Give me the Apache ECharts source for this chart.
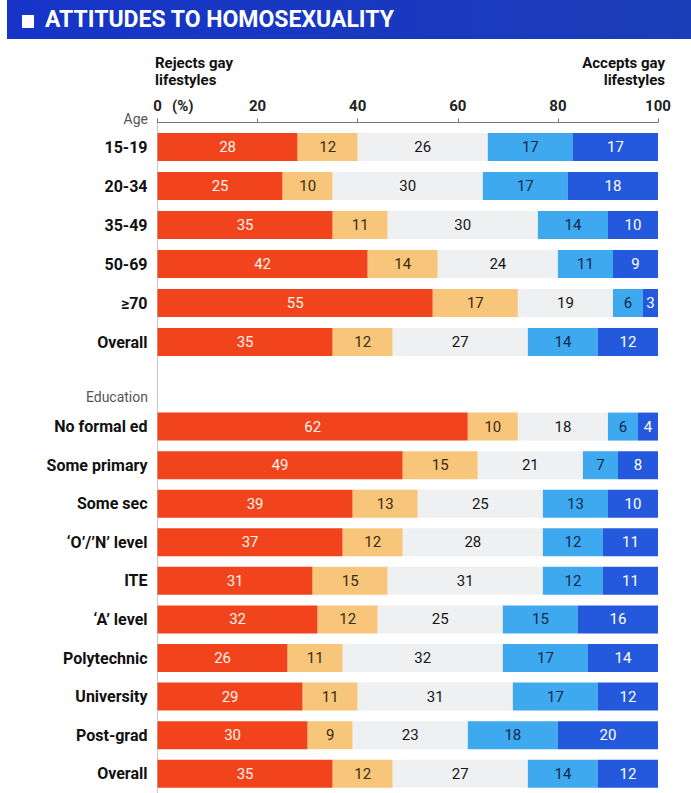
<!DOCTYPE html>
<html>
<head>
<meta charset="utf-8">
<style>
  html, body { margin: 0; padding: 0; background: #fff; }
  #chart { width: 691px; height: 793px; }
</style>
<script src="https://cdn.jsdelivr.net/npm/echarts@6/dist/echarts.min.js"></script>
</head>
<body>
<div id="chart"></div>
<script>
// --- data ---
var ageGroups = ['15-19', '20-34', '35-49', '50-69', '≥70', 'Overall'];
var ageReject = [28, 25, 35, 42, 55, 35];
var ageLean = [12, 10, 11, 14, 17, 12];
var ageNeutral = [26, 30, 30, 24, 19, 27];
var ageLeanAccept = [17, 17, 14, 11, 6, 14];
var ageAccept = [17, 18, 10, 9, 3, 12];

var eduGroups = ['No formal ed', 'Some primary', 'Some sec', '\u2018O\u2019/\u2019N\u2019 level', 'ITE',
  '\u2018A\u2019 level', 'Polytechnic', 'University', 'Post-grad', 'Overall'];
var eduReject = [62, 49, 39, 37, 31, 32, 26, 29, 30, 35];
var eduLean = [10, 15, 13, 12, 15, 12, 11, 11, 9, 12];
var eduNeutral = [18, 21, 25, 28, 31, 25, 32, 31, 23, 27];
var eduLeanAccept = [6, 7, 13, 12, 12, 15, 17, 17, 18, 14];
var eduAccept = [4, 8, 10, 11, 11, 16, 14, 12, 20, 12];

var seriesNames = ['Rejects', 'Somewhat rejects', 'Neutral', 'Somewhat accepts', 'Accepts'];

// --- style ---
var font = "Roboto, 'Noto Sans', sans-serif";
var colors = ['#f2441c', '#f8c67a', '#eff0f2', '#3ea9ee', '#2458dd'];
var labelColors = ['#fff3ea', '#3a2a12', '#151515', '#13284f', '#ffffff'];

var chart = echarts.init(document.getElementById('chart'), null, { renderer: 'svg' });

function buildSeries(idx, sets) {
  return sets.map(function(values, i) {
    return {
      name: seriesNames[i],
      type: 'bar',
      stack: 'g' + idx,
      xAxisIndex: idx,
      yAxisIndex: idx,
      barWidth: 28,
      data: values,
      itemStyle: { color: colors[i] },
      label: {
        show: true,
        position: 'inside',
        color: labelColors[i],
        fontFamily: font,
        fontSize: 15,
        fontWeight: 'normal'
      }
    };
  });
}

var series = buildSeries(0, [ageReject, ageLean, ageNeutral, ageLeanAccept, ageAccept])
  .concat(buildSeries(1, [eduReject, eduLean, eduNeutral, eduLeanAccept, eduAccept]));

var catLabel = { color: '#111', fontFamily: font, fontSize: 16, fontWeight: 'bold', margin: 10 };

chart.setOption({
  animation: false,
  grid: [
    { left: 157.5, right: 33, top: 127.5, height: 234 },
    { left: 157.5, right: 33, top: 407.3, height: 393 }
  ],
  xAxis: [
    {
      gridIndex: 0, type: 'value', position: 'top', min: 0, max: 100, interval: 20,
      offset: 5,
      axisLine: { show: true, lineStyle: { color: '#777', width: 1 } },
      axisTick: { show: true, length: 4, lineStyle: { color: '#777' } },
      splitLine: { show: false },
      axisLabel: { color: '#222', fontFamily: font, fontSize: 15, fontWeight: 'bold', margin: 9 }
    },
    {
      gridIndex: 1, type: 'value', min: 0, max: 100, show: false, splitLine: { show: false }
    }
  ],
  yAxis: [
    {
      gridIndex: 0, type: 'category', data: ageGroups, inverse: true,
      axisLine: { show: false }, axisTick: { show: false }, axisLabel: catLabel
    },
    {
      gridIndex: 1, type: 'category', data: eduGroups, inverse: true,
      axisLine: { show: false }, axisTick: { show: false }, axisLabel: catLabel
    }
  ],
  graphic: [
    {
      type: 'rect', left: 7, top: 0, shape: { width: 684, height: 39 },
      style: {
        fill: new echarts.graphic.LinearGradient(0, 0, 1, 0, [
          { offset: 0, color: '#1634c8' }, { offset: 1, color: '#1a3db8' }
        ])
      }
    },
    { type: 'rect', left: 22, top: 15, shape: { width: 12, height: 13 }, style: { fill: '#fff' } },
    {
      type: 'text', left: 45, top: 8,
      style: { text: 'ATTITUDES TO HOMOSEXUALITY', fill: '#fff', font: "bold 23px " + font }
    },
    {
      type: 'text',
      style: { x: 155, y: 54, text: 'Rejects gay\nlifestyles', fill: '#111', font: "bold 15px " + font,
        lineHeight: 17, align: 'left', verticalAlign: 'top' }
    },
    {
      type: 'text',
      style: { x: 665, y: 54, text: 'Accepts gay\nlifestyles', fill: '#111', font: "bold 15px " + font,
        lineHeight: 17, align: 'right', verticalAlign: 'top' }
    },
    {
      type: 'text',
      style: { x: 172, y: 106, text: '(%)', fill: '#222', font: "bold 15px " + font, verticalAlign: 'middle' }
    },
    {
      type: 'text',
      style: { x: 148, y: 119, text: 'Age', fill: '#555', font: "14px " + font, align: 'right', verticalAlign: 'middle' }
    },
    {
      type: 'text',
      style: { x: 148, y: 397, text: 'Education', fill: '#555', font: "14px " + font, align: 'right', verticalAlign: 'middle' }
    },
    {
      type: 'line', shape: { x1: 157.5, y1: 123, x2: 157.5, y2: 793 },
      style: { stroke: '#c8c8c8', lineWidth: 1 }, z: -1
    }
  ],
  series: series
});
window.addEventListener('resize', function() { chart.resize(); });
</script>
</body>
</html>
